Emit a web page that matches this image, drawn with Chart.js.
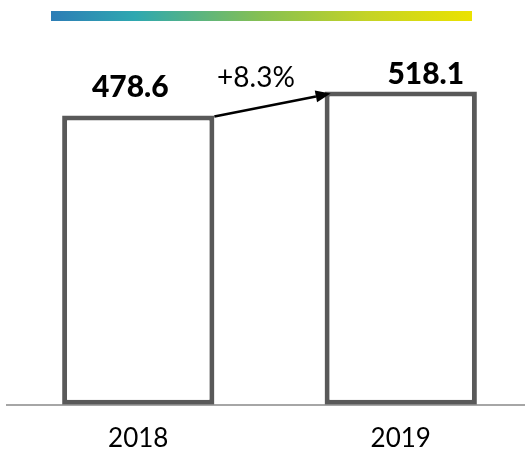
<!DOCTYPE html>
<html>
<head>
<meta charset="utf-8">
<script src="https://cdn.jsdelivr.net/npm/chart.js@4.4.1/dist/chart.umd.min.js"></script>
<style>
  html, body { margin: 0; padding: 0; background: #fff; overflow: hidden; }
  #wrap { width: 532px; height: 449px; }
</style>
</head>
<body>
<div id="wrap"><canvas id="chart"></canvas></div>
<script>
const years = ["2018", "2019"];
const values = [478.6, 518.1];
const valueLabels = ["478.6", "518.1"];
const growthLabel = "+8.3%";

const FONT = "Lato, 'Open Sans', sans-serif";

// gradient strip, value labels and growth arrow
const decorations = {
    id: "decorations",
    afterDatasetsDraw(chart) {
        const ctx = chart.ctx;
        const bars = chart.getDatasetMeta(0).data;
        const b0 = bars[0], b1 = bars[1];

        ctx.save();
        const grad = ctx.createLinearGradient(51, 0, 472, 0);
        grad.addColorStop(0, "#2d7db6");
        grad.addColorStop(0.2, "#2ea8b0");
        grad.addColorStop(0.5, "#86c052");
        grad.addColorStop(0.75, "#c4d326");
        grad.addColorStop(1, "#ebe200");
        ctx.fillStyle = grad;
        ctx.fillRect(51, 11, 421, 10);

        ctx.fillStyle = "#000";
        ctx.textAlign = "center";
        ctx.textBaseline = "alphabetic";
        ctx.font = "900 30px " + FONT;
        ctx.fillText(valueLabels[0], b0.x - 8, b0.y - 18);
        ctx.fillText(valueLabels[1], b1.x + 25, b1.y - 8);

        ctx.font = "28px " + FONT;
        ctx.fillText(growthLabel, 256, 87);

        // arrow from top-right of first bar to top-left of second
        const x1 = b0.x + b0.width / 2, y1 = b0.y + 1;
        const x2 = b1.x - b1.width / 2 + 6, y2 = b1.y + 2;
        const ang = Math.atan2(y2 - y1, x2 - x1);
        const head = 15;
        ctx.strokeStyle = "#000";
        ctx.lineWidth = 2.5;
        ctx.beginPath();
        ctx.moveTo(x1, y1);
        ctx.lineTo(x2 - head * Math.cos(ang), y2 - head * Math.sin(ang));
        ctx.stroke();
        ctx.beginPath();
        ctx.moveTo(x2, y2);
        ctx.lineTo(x2 - head * Math.cos(ang) + 6 * Math.sin(ang), y2 - head * Math.sin(ang) - 6 * Math.cos(ang));
        ctx.lineTo(x2 - head * Math.cos(ang) - 6 * Math.sin(ang), y2 - head * Math.sin(ang) + 6 * Math.cos(ang));
        ctx.closePath();
        ctx.fill();
        ctx.restore();
    }
};

new Chart("chart", {
    type: "bar",
    data: {
        labels: years,
        datasets: [{
            data: values,
            backgroundColor: "#ffffff",
            borderColor: "#595959",
            borderWidth: 5,
            borderSkipped: false,
            categoryPercentage: 1,
            barPercentage: 0.58
        }]
    },
    options: {
        responsive: true,
        maintainAspectRatio: false,
        animation: false,
        layout: { padding: { top: 42, left: 7, right: 0, bottom: -15 } },
        plugins: { legend: { display: false }, tooltip: { enabled: false } },
        scales: {
            y: { display: false, min: 0, max: 600 },
            x: {
                grid: { display: false },
                border: { display: true, color: "#a6a6a6", width: 2 },
                ticks: { color: "#000", padding: 10, font: { family: FONT, size: 26 } }
            }
        }
    },
    plugins: [decorations]
});
</script>
</body>
</html>
